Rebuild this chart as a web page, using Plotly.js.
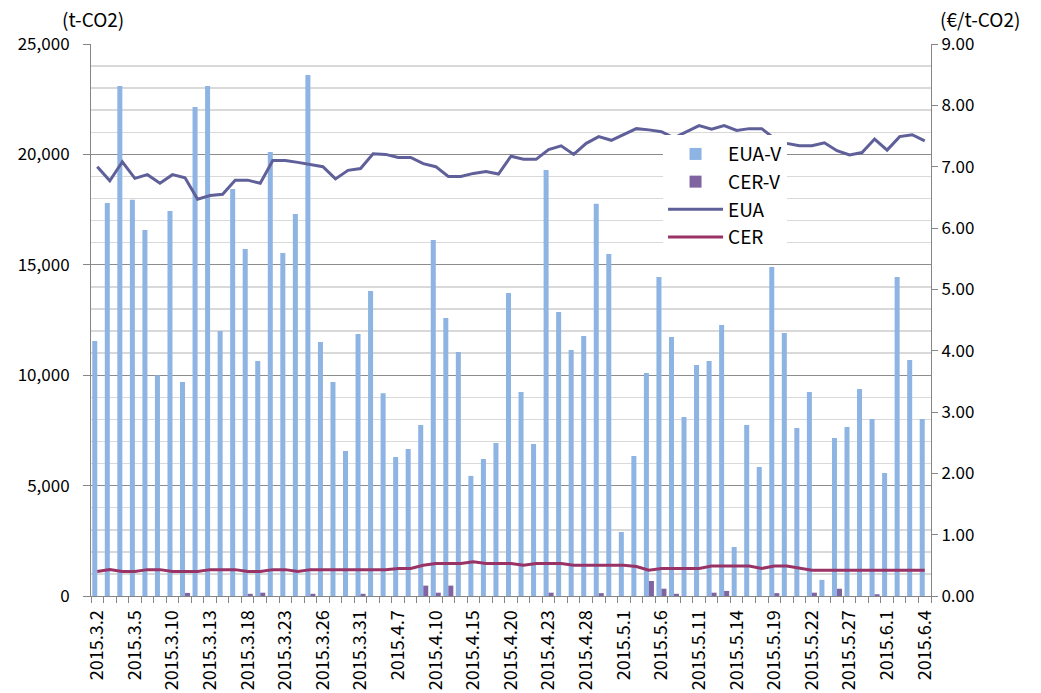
<!DOCTYPE html>
<html>
<head>
<meta charset="utf-8">
<script src="https://cdn.plot.ly/plotly-3.0.1.min.js"></script>
<style>
html,body{margin:0;padding:0;background:#fff;}
#chart{width:1041px;height:693px;}
</style>
</head>
<body>
<div id="chart"></div>
<script>
const dates = ['2015.3.2','2015.3.3','2015.3.4','2015.3.5','2015.3.6','2015.3.9','2015.3.10','2015.3.11','2015.3.12','2015.3.13','2015.3.16','2015.3.17','2015.3.18','2015.3.19','2015.3.20','2015.3.23','2015.3.24','2015.3.25','2015.3.26','2015.3.27','2015.3.30','2015.3.31','2015.4.1','2015.4.2','2015.4.7','2015.4.8','2015.4.9','2015.4.10','2015.4.13','2015.4.14','2015.4.15','2015.4.16','2015.4.17','2015.4.20','2015.4.21','2015.4.22','2015.4.23','2015.4.24','2015.4.27','2015.4.28','2015.4.29','2015.4.30','2015.5.1','2015.5.4','2015.5.5','2015.5.6','2015.5.7','2015.5.8','2015.5.11','2015.5.12','2015.5.13','2015.5.14','2015.5.15','2015.5.18','2015.5.19','2015.5.20','2015.5.21','2015.5.22','2015.5.25','2015.5.26','2015.5.27','2015.5.28','2015.5.29','2015.6.1','2015.6.2','2015.6.3','2015.6.4'];

const euaVolume = [11550,17800,23100,17950,16580,10000,17440,9690,22150,23100,12000,18430,15720,10640,20110,15540,17300,23600,11500,9690,6570,11870,13810,9180,6300,6660,7750,16120,12590,11050,5440,6210,6930,13720,9240,6880,19290,12860,11140,11780,17770,15490,2900,6340,10100,14450,11730,8110,10460,10640,12270,2220,7750,5840,14900,11910,7610,9240,730,7160,7650,9380,8020,5570,14450,10690,8020];

const cerVolume = [0,0,0,0,0,0,0,140,0,0,0,0,100,150,0,0,0,100,0,0,0,100,0,0,0,0,470,150,470,0,0,0,0,0,0,0,150,0,0,0,130,0,0,0,680,330,100,0,0,150,230,0,0,0,130,0,0,150,0,330,0,0,80,0,0,0,0];

const euaPrice = [7.00,6.77,7.08,6.81,6.87,6.73,6.87,6.82,6.47,6.53,6.55,6.78,6.78,6.73,7.10,7.10,7.07,7.03,7.00,6.80,6.94,6.97,7.21,7.20,7.15,7.15,7.05,7.00,6.84,6.84,6.89,6.92,6.88,7.17,7.12,7.12,7.28,7.34,7.20,7.38,7.49,7.43,7.52,7.62,7.60,7.57,7.47,7.57,7.67,7.61,7.67,7.59,7.62,7.62,7.46,7.38,7.34,7.34,7.39,7.26,7.19,7.23,7.45,7.27,7.49,7.52,7.42];

const cerPrice = [0.40,0.43,0.40,0.40,0.43,0.43,0.40,0.40,0.40,0.43,0.43,0.43,0.40,0.40,0.43,0.43,0.40,0.43,0.43,0.43,0.43,0.43,0.43,0.43,0.45,0.45,0.50,0.53,0.53,0.53,0.56,0.53,0.53,0.53,0.50,0.53,0.53,0.53,0.50,0.50,0.50,0.50,0.50,0.48,0.42,0.45,0.45,0.45,0.45,0.49,0.49,0.49,0.49,0.45,0.49,0.49,0.45,0.42,0.42,0.42,0.42,0.42,0.42,0.42,0.42,0.42,0.42];

const labelStep = 3;
const leftUnit = '(t-CO2)';
const rightUnit = '(€/t-CO2)';

const idx = dates.map((d, i) => i);
const tickIdx = idx.filter(i => i % labelStep === 0);
const tickLabels = tickIdx.map(i => dates[i]);

const FONT = '"Noto Sans CJK JP", "Noto Sans", sans-serif';
const AXIS = '#868686';

const traces = [
  {type:'bar', name:'EUA-V', x: idx, y: euaVolume, marker:{color:'#8DB4E2'}, yaxis:'y'},
  {type:'bar', name:'CER-V', x: idx, y: cerVolume, marker:{color:'#8064A2'}, yaxis:'y'},
  {type:'scatter', mode:'lines', name:'EUA', x: idx, y: euaPrice, line:{color:'#5F5F99', width:3}, yaxis:'y2'},
  {type:'scatter', mode:'lines', name:'CER', x: idx, y: cerPrice, line:{color:'#993366', width:3}, yaxis:'y2'}
];

const layout = {
  width:1041, height:693,
  margin:{l:91, r:110, t:44, b:97},
  paper_bgcolor:'#fff', plot_bgcolor:'#fff',
  font:{family:FONT, size:17, color:'#000'},
  barmode:'group', bargap:0.2, bargroupgap:0,
  showlegend:true,
  legend:{x:0.681, y:0.835, xanchor:'left', yanchor:'top', bgcolor:'#fff', borderwidth:0,
          font:{family:FONT, size:19, color:'#000'}, tracegroupgap:0, itemwidth:55,
          entrywidth:140, entrywidthmode:'pixels'},
  xaxis:{range:[-0.5, dates.length-0.5], tickmode:'array', tickvals:tickIdx, ticktext:tickLabels,
         tickangle:-90, ticks:'', showgrid:false, zeroline:false,
         showline:true, linecolor:AXIS, linewidth:1, ticklabelstandoff:6,
         minor:{tick0:-0.5, dtick:1, ticks:'outside', ticklen:6, tickcolor:AXIS, showgrid:false},
         tickfont:{family:FONT, size:18}},
  yaxis:{range:[0,25000], dtick:5000, tickformat:',d', showline:true, linecolor:AXIS, linewidth:1,
         ticks:'outside', ticklen:7, tickcolor:AXIS, gridcolor:'#8C8C8C', gridwidth:1, zeroline:false,
         ticklabelstandoff:10,
         minor:{dtick:1000, showgrid:true, gridcolor:'#D9D9D9', gridwidth:1.5},
         tickfont:{family:FONT, size:17}},
  yaxis2:{range:[0,9], dtick:1, tickformat:'.2f', overlaying:'y', side:'right', showgrid:false,
          showline:true, linecolor:AXIS, linewidth:1, ticks:'outside', ticklen:6, tickcolor:AXIS,
          zeroline:false, tickfont:{family:FONT, size:17}},
  annotations:[
    {text:leftUnit, xref:'paper', yref:'paper', x:0.0024, y:1.0, xanchor:'center', yanchor:'bottom', yshift:10, showarrow:false, font:{family:FONT, size:19}},
    {text:rightUnit, xref:'paper', yref:'paper', x:1.058, y:1.0, xanchor:'center', yanchor:'bottom', yshift:10, showarrow:false, font:{family:FONT, size:19}}
  ]
};

Plotly.newPlot('chart', traces, layout, {displayModeBar:false, staticPlot:true});
</script>
</body>
</html>
